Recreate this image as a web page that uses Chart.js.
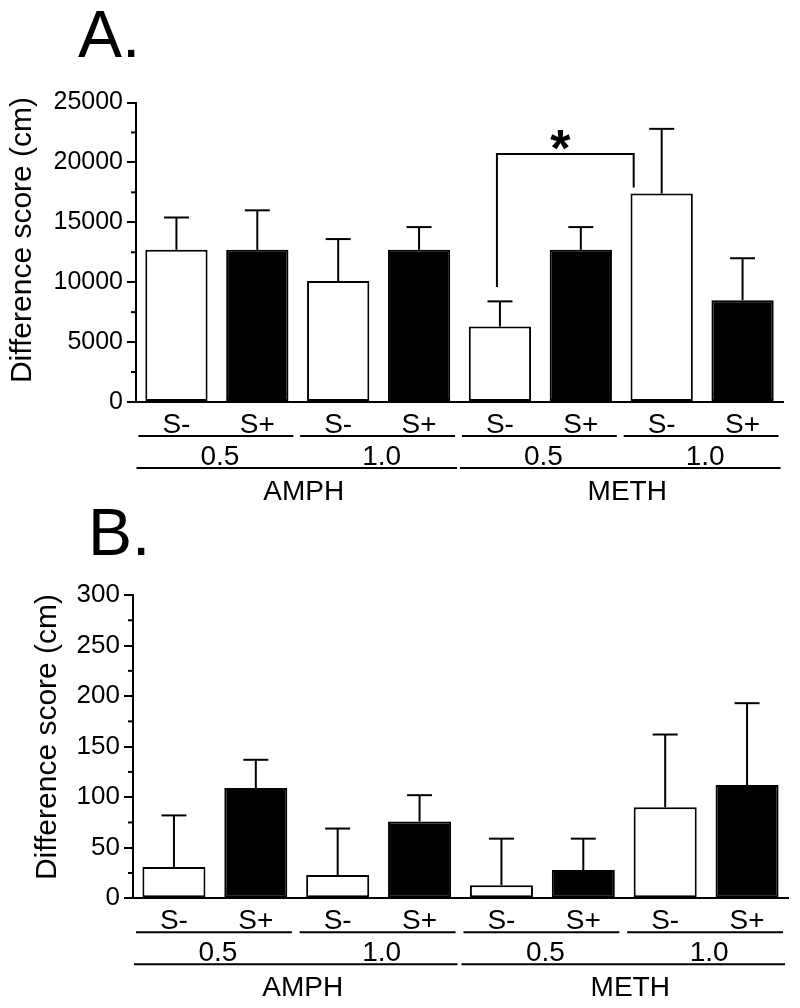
<!DOCTYPE html>
<html>
<head>
<meta charset="utf-8">
<script src="https://cdn.jsdelivr.net/npm/chart.js@4/dist/chart.umd.min.js"></script>
<style>
html, body { margin: 0; padding: 0; background: #fff; }
#wrap { position: relative; width: 800px; height: 1008px; }
.panel { position: absolute; left: 0; width: 800px; height: 504px; }
</style>
</head>
<body>
<div id="wrap">
  <div class="panel" style="top:0"><canvas id="chartA" width="800" height="504"></canvas></div>
  <div class="panel" style="top:504px"><canvas id="chartB" width="800" height="504"></canvas></div>
</div>
<script>
// categories
const stimLabels = ['S-', 'S+', 'S-', 'S+', 'S-', 'S+', 'S-', 'S+'];
const doseLabels = ['0.5', '1.0', '0.5', '1.0'];
const drugLabels = ['AMPH', 'METH'];

// panel A values (cm) and SEM
const meansA = [12700, 12700, 10100, 12700, 6300, 12700, 17400, 8500];
const semA = [2700, 3300, 3500, 1900, 2100, 1900, 5400, 3500];
// panel B values (cm) and SEM
const meansB = [31, 109, 23, 76, 13, 28, 90, 112];
const semB = [51, 28, 46, 26, 46, 31, 72, 81];

// y axis ticks
const yTicksA = [0, 5000, 10000, 15000, 20000, 25000];
const yTicksB = [0, 50, 100, 150, 200, 250, 300];
const yTitle = 'Difference score (cm)';

// significance bracket in panel A: METH 0.5 S- vs METH 1.0 S-
const sigPairA = [4, 6];
const sigLevelA = 20700;
const sigLegEndsA = [9600, 17900];

const FONT = '"Liberation Sans", Arial, Helvetica, sans-serif';
const barFill = stimLabels.map(s => s === 'S+' ? '#000' : '#fff');

function line(ctx, x1, y1, x2, y2) {
    ctx.beginPath();
    ctx.moveTo(x1, y1);
    ctx.lineTo(x2, y2);
    ctx.stroke();
}

const extras = {
    id: 'extras',
    afterDraw(chart, args, opts) {
        const ctx = chart.ctx;
        const x = chart.scales.x;
        const y = chart.scales.y;
        const area = chart.chartArea;
        ctx.save();
        ctx.strokeStyle = '#000';
        ctx.fillStyle = '#000';
        ctx.lineWidth = 2;

        // minor ticks half way between the labelled ones
        const ticks = opts.ticks;
        for (let i = 0; i < ticks.length - 1; i++) {
            const py = y.getPixelForValue((ticks[i] + ticks[i + 1]) / 2);
            line(ctx, area.left - 5, py, area.left, py);
        }

        // error bars (mean + SEM)
        const meta = chart.getDatasetMeta(0);
        opts.means.forEach((m, i) => {
            const bar = meta.data[i];
            const top = y.getPixelForValue(m + opts.sem[i]);
            line(ctx, bar.x, bar.y, bar.x, top);
            line(ctx, bar.x - 12.5, top, bar.x + 12.5, top);
        });

        // category rows under the axis
        const b = area.bottom;
        ctx.textAlign = 'center';
        ctx.textBaseline = 'alphabetic';
        ctx.font = '28px ' + FONT;
        stimLabels.forEach((s, i) => ctx.fillText(s, x.getPixelForValue(i), b + 31));
        doseLabels.forEach((d, g) => {
            const c1 = x.getPixelForValue(2 * g);
            const c2 = x.getPixelForValue(2 * g + 1);
            line(ctx, c1 - 38, b + 34, c2 + 36, b + 34);
            ctx.fillText(d, (c1 + c2) / 2 + 3, b + 63);
        });
        drugLabels.forEach((d, g) => {
            const c1 = x.getPixelForValue(4 * g);
            const c4 = x.getPixelForValue(4 * g + 3);
            line(ctx, c1 - 40, b + 66, c4 + 38, b + 66);
            ctx.fillText(d, (c1 + c4) / 2 + 6, b + 98);
        });

        // y axis title
        ctx.save();
        ctx.translate(opts.titleX, opts.titleY);
        ctx.rotate(-Math.PI / 2);
        ctx.textBaseline = 'middle';
        ctx.font = '30px ' + FONT;
        ctx.fillText(yTitle, 0, 0);
        ctx.restore();

        // panel letter
        ctx.textAlign = 'left';
        ctx.font = '66px ' + FONT;
        ctx.fillText(opts.letter, opts.letterX, opts.letterY);

        // significance bracket
        if (opts.sig) {
            const xl = x.getPixelForValue(sigPairA[0]) - 3;
            const xr = x.getPixelForValue(sigPairA[1]) - 28;
            const yt = y.getPixelForValue(sigLevelA);
            ctx.beginPath();
            ctx.moveTo(xl, y.getPixelForValue(sigLegEndsA[0]));
            ctx.lineTo(xl, yt);
            ctx.lineTo(xr, yt);
            ctx.lineTo(xr, y.getPixelForValue(sigLegEndsA[1]));
            ctx.stroke();
            ctx.textAlign = 'center';
            ctx.font = 'bold 52px ' + FONT;
            ctx.fillText('*', (xl + xr) / 2 - 5, yt + 12);
        }
        ctx.restore();
    }
};

function makeOptions(ticks, axisWidth, axisHeight, pad, tickSize, extraOpts) {
    return {
        responsive: false,
        animation: false,
        layout: { padding: pad },
        scales: {
            x: {
                ticks: { display: false },
                grid: { display: false },
                border: { display: true, color: '#000', width: 2 },
                afterFit(scale) { scale.height = axisHeight; }
            },
            y: {
                min: ticks[0],
                max: ticks[ticks.length - 1],
                afterBuildTicks(scale) { scale.ticks = ticks.map(v => ({ value: v })); },
                ticks: {
                    color: '#000',
                    font: { family: FONT, size: tickSize },
                    padding: 4,
                    callback: v => String(v)
                },
                grid: { display: true, drawOnChartArea: false, drawTicks: true, tickLength: 9, color: '#000', lineWidth: 2 },
                border: { display: true, color: '#000', width: 2 },
                afterFit(scale) { scale.width = axisWidth; }
            }
        },
        plugins: {
            legend: { display: false },
            tooltip: { enabled: false },
            extras: extraOpts
        }
    };
}

function makeChart(id, means, opts) {
    return new Chart(document.getElementById(id), {
        type: 'bar',
        data: {
            labels: stimLabels,
            datasets: [{
                data: means,
                backgroundColor: barFill,
                borderColor: '#000',
                borderWidth: 2,
                borderSkipped: false,
                barPercentage: 0.77,
                categoryPercentage: 1.0
            }]
        },
        options: opts,
        plugins: [extras]
    });
}

const chartA = makeChart('chartA', meansA,
    makeOptions(yTicksA, 136, 102, { top: 102.5, right: 17, bottom: 0, left: 0 }, 25,
        { ticks: yTicksA, means: meansA, sem: semA, letter: 'A.', letterX: 78, letterY: 57,
          titleX: 23, titleY: 240, sig: true }));

const chartB = makeChart('chartB', meansB,
    makeOptions(yTicksB, 133, 109.7, { top: 91, right: 12, bottom: 0, left: 0 }, 26,
        { ticks: yTicksB, means: meansB, sem: semB, letter: 'B.', letterX: 88, letterY: 51,
          titleX: 48, titleY: 233, sig: false }));
</script>
</body>
</html>
